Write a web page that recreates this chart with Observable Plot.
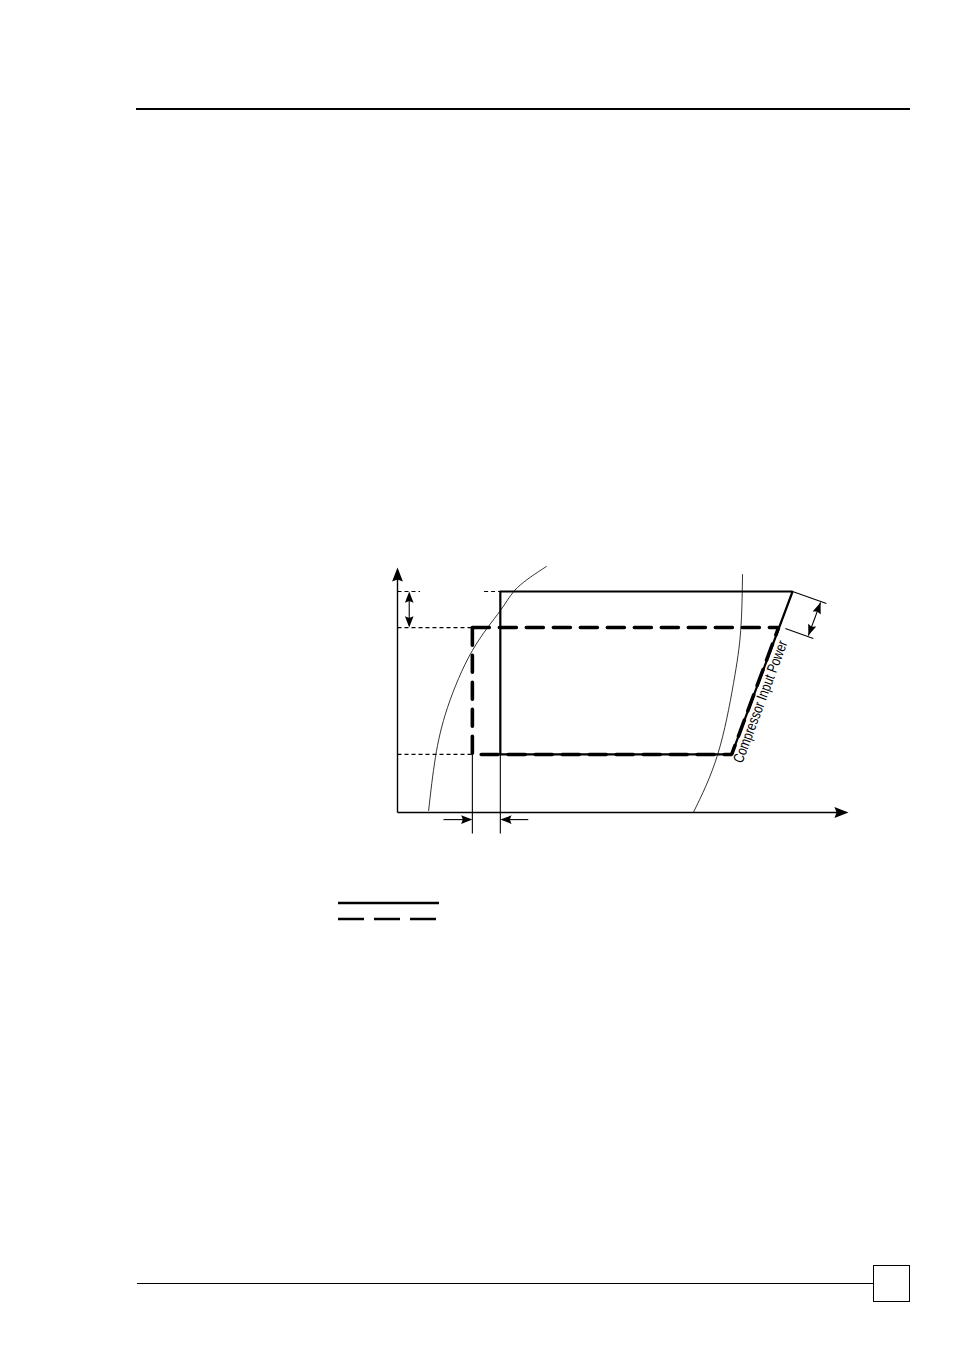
<!DOCTYPE html>
<html>
<head>
<meta charset="utf-8">
<script src="https://cdn.jsdelivr.net/npm/d3@7"></script>
<script src="https://cdn.jsdelivr.net/npm/@observablehq/plot@0.6"></script>
<style>
  html, body { margin: 0; padding: 0; background: #fff; }
  body { width: 955px; height: 1350px; position: relative; overflow: hidden; font-family: "Liberation Sans", Arial, sans-serif; }
  .rule-top { position: absolute; left: 136px; top: 108px; width: 774px; height: 0; border-top: 2px solid #000; }
  .rule-bottom { position: absolute; left: 137px; top: 1283px; width: 736px; height: 0; border-top: 1px solid #000; }
  .pagebox { position: absolute; left: 873px; top: 1265px; width: 35px; height: 35px; border: 1.5px solid #000; background: #fff; }
  #chart { position: absolute; left: 0; top: 540px; }
  #legend { position: absolute; left: 338px; top: 896px; }
</style>
</head>
<body>
<div class="rule-top"></div>
<div class="rule-bottom"></div>
<div class="pagebox"></div>
<div id="chart"></div>
<div id="legend"></div>
<script>
// ---- Data (enthalpy h on x, pressure p on y, arbitrary units 0..100) ----
// Saturation dome (liquid and vapour lines)
const domeLiquidH = [6.9, 8.4, 11.1, 16.6, 22.8, 26.6, 33.0];
const domeLiquidP = [0.8, 22.4, 42.9, 66.1, 82.4, 91.8, 100.4];
const domeVapourH = [76.5, 76.1, 74.5, 71.0, 65.6];
const domeVapourP = [97.1, 74.3, 52.7, 23.7, 0];

// Pressure levels
const pHighSolid = 90.2;
const pHighDashed = 75.5;
const pLow = 23.7;

// Solid cycle corners (h, p)
const solidH = [22.8, 87.6, 74.1, 22.8, 22.8];
const solidP = [pHighSolid, pHighSolid, pLow, pLow, pHighSolid];
// Dashed cycle corners (h, p)
const dashedH = [16.6, 84.5, 74.1, 16.6, 16.6];
const dashedP = [pHighDashed, pHighDashed, pLow, pLow, pHighDashed];

// Axis extents
const axisMax = 100;

// Helper/annotation geometry
const dimLeftH = 2.6;            // vertical double arrow beside p-axis
const dropLineBottomP = -8.6;    // bottom of the extension lines under the axis
const arrowRowP = -2.9;          // row of the two pointing arrows
const arrowLeftFromH = 10.2;
const arrowRightFromH = 29.0;
const extSolidEnd = [95.1, 85.3];
const extDashedStart = [86.0, 75.1];
const extDashedEnd = [92.2, 71.0];
const dimRightA = [93.8, 85.7];
const dimRightB = [91.1, 72.2];
const labelText = "Compressor Input Power";
const labelPos = [78.6, 46.5];

// ---- Layout ----
const W = 955, H = 320;
const mL = 397, mR = 107, mT = 27, mB = 48;
const kx = (W - mL - mR) / axisMax, ky = (H - mT - mB) / axisMax;
const ang = (h1, p1, h2, p2) => Math.atan2((h2 - h1) * kx, (p2 - p1) * ky) * 180 / Math.PI; // clockwise from "up"

// Filled arrow head symbol, tip at origin, pointing up
const headSymbol = {
  draw(ctx, size) {
    const r = Math.sqrt(size / Math.PI);
    const L = r * 2.6, w = r * 1.0;
    ctx.moveTo(0, 0);
    ctx.lineTo(w, L);
    ctx.lineTo(0, L * 0.85);
    ctx.lineTo(-w, L);
    ctx.closePath();
  }
};

const zip = (a, b) => a.map((v, i) => ({h: v, p: b[i]}));
const liquid = zip(domeLiquidH, domeLiquidP);
const vapour = zip(domeVapourH, domeVapourP);
const solid = zip(solidH, solidP);
const dashed = zip(dashedH, dashedP);

const axes = [
  {h1: 0, p1: 0, h2: 0, p2: axisMax - 2},
  {h1: 0, p1: 0, h2: axisMax - 1, p2: 0}
];
const dotted = [
  {h1: 0, p1: pHighDashed, h2: dashedH[0], p2: pHighDashed},
  {h1: 0, p1: pLow, h2: dashedH[0], p2: pLow},
  {h1: 0, p1: pHighSolid, h2: 5, p2: pHighSolid},
  {h1: solidH[0] - 3.6, p1: pHighSolid, h2: solidH[0], p2: pHighSolid}
];
const thin = [
  {h1: dashedH[0], p1: pLow, h2: dashedH[0], p2: dropLineBottomP},
  {h1: solidH[0], p1: pLow, h2: solidH[0], p2: dropLineBottomP},
  {h1: dimLeftH, p1: pHighSolid - 1, h2: dimLeftH, p2: pHighDashed + 1},
  {h1: arrowLeftFromH, p1: arrowRowP, h2: dashedH[0] - 0.5, p2: arrowRowP},
  {h1: arrowRightFromH, p1: arrowRowP, h2: solidH[0] + 0.5, p2: arrowRowP},
  {h1: solidH[1], p1: pHighSolid, h2: extSolidEnd[0], p2: extSolidEnd[1]},
  {h1: extDashedStart[0], p1: extDashedStart[1], h2: extDashedEnd[0], p2: extDashedEnd[1]},
  {h1: dimRightA[0], p1: dimRightA[1], h2: dimRightB[0], p2: dimRightB[1]}
];
const axisHeads = [
  {h: 0, p: axisMax, rot: 0},
  {h: axisMax, p: 0, rot: 90}
];
const smallHeads = [
  {h: dimLeftH, p: pHighSolid, rot: 0},
  {h: dimLeftH, p: pHighDashed, rot: 180},
  {h: dashedH[0], p: arrowRowP, rot: 90},
  {h: solidH[0], p: arrowRowP, rot: -90},
  {h: dimRightA[0], p: dimRightA[1], rot: ang(dimRightB[0], dimRightB[1], dimRightA[0], dimRightA[1])},
  {h: dimRightB[0], p: dimRightB[1], rot: ang(dimRightA[0], dimRightA[1], dimRightB[0], dimRightB[1])}
];
const labelRot = -Math.atan2((solidP[1] - solidP[2]) * ky, (solidH[1] - solidH[2]) * kx) * 180 / Math.PI;
// offset the label perpendicular to the compression line (to its right side)
const perp = 9, rad = labelRot * Math.PI / 180;
const labelDx = -Math.sin(rad) * perp, labelDy = Math.cos(rad) * perp;

const chart = Plot.plot({
  width: W, height: H,
  marginLeft: mL, marginRight: mR, marginTop: mT, marginBottom: mB,
  x: {domain: [0, axisMax], axis: null},
  y: {domain: [0, axisMax], axis: null},
  style: {background: "transparent", overflow: "visible"},
  marks: [
    Plot.line(liquid, {x: "h", y: "p", curve: "natural", stroke: "#000", strokeWidth: 0.8}),
    Plot.line(vapour, {x: "h", y: "p", curve: "natural", stroke: "#000", strokeWidth: 0.8}),
    Plot.link(dotted, {x1: "h1", y1: "p1", x2: "h2", y2: "p2", stroke: "#000", strokeWidth: 1.2, strokeDasharray: "4,3"}),
    Plot.link(thin, {x1: "h1", y1: "p1", x2: "h2", y2: "p2", stroke: "#000", strokeWidth: 1.1}),
    Plot.link(axes, {x1: "h1", y1: "p1", x2: "h2", y2: "p2", stroke: "#000", strokeWidth: 1.4}),
    Plot.line(solid, {x: "h", y: "p", stroke: "#000", strokeWidth: 2.2, strokeLinejoin: "miter"}),
    Plot.line(dashed, {x: "h", y: "p", stroke: "#000", strokeWidth: 3.6, strokeDasharray: "17,10", strokeLinejoin: "miter"}),
    Plot.dot(axisHeads, {x: "h", y: "p", r: 5.4, rotate: "rot", symbol: headSymbol, fill: "#000", stroke: "none"}),
    Plot.dot(smallHeads, {x: "h", y: "p", r: 4.3, rotate: "rot", symbol: headSymbol, fill: "#000", stroke: "none"}),
    Plot.text([{h: labelPos[0], p: labelPos[1], t: labelText}], {
      x: "h", y: "p", text: "t", rotate: labelRot, textAnchor: "middle", lineAnchor: "middle",
      dx: labelDx, dy: labelDy, className: "cip",
      fontSize: 15, fill: "#000", fontFamily: "'Liberation Sans', Arial, sans-serif"
    })
  ]
});
// narrow (condensed) lettering like the original
chart.querySelectorAll(".cip text").forEach(t => {
  const tr = t.getAttribute("transform") || "";
  t.setAttribute("transform", tr + " scale(0.78,1)");
  t.style.textRendering = "geometricPrecision";
});
document.getElementById("chart").appendChild(chart);

// ---- Legend swatches ----
const legendStyles = [
  {name: "solid", dash: null, width: 2.5},
  {name: "dashed", dash: "26,10", width: 2.5}
];
const lg = d3.select("#legend").append("svg").attr("width", 110).attr("height", 30);
lg.selectAll("line").data(legendStyles).join("line")
  .attr("x1", 0).attr("x2", 101)
  .attr("y1", (d, i) => 7 + i * 16).attr("y2", (d, i) => 7 + i * 16)
  .attr("stroke", "#000").attr("stroke-width", d => d.width)
  .attr("stroke-dasharray", d => d.dash);
</script>
</body>
</html>
